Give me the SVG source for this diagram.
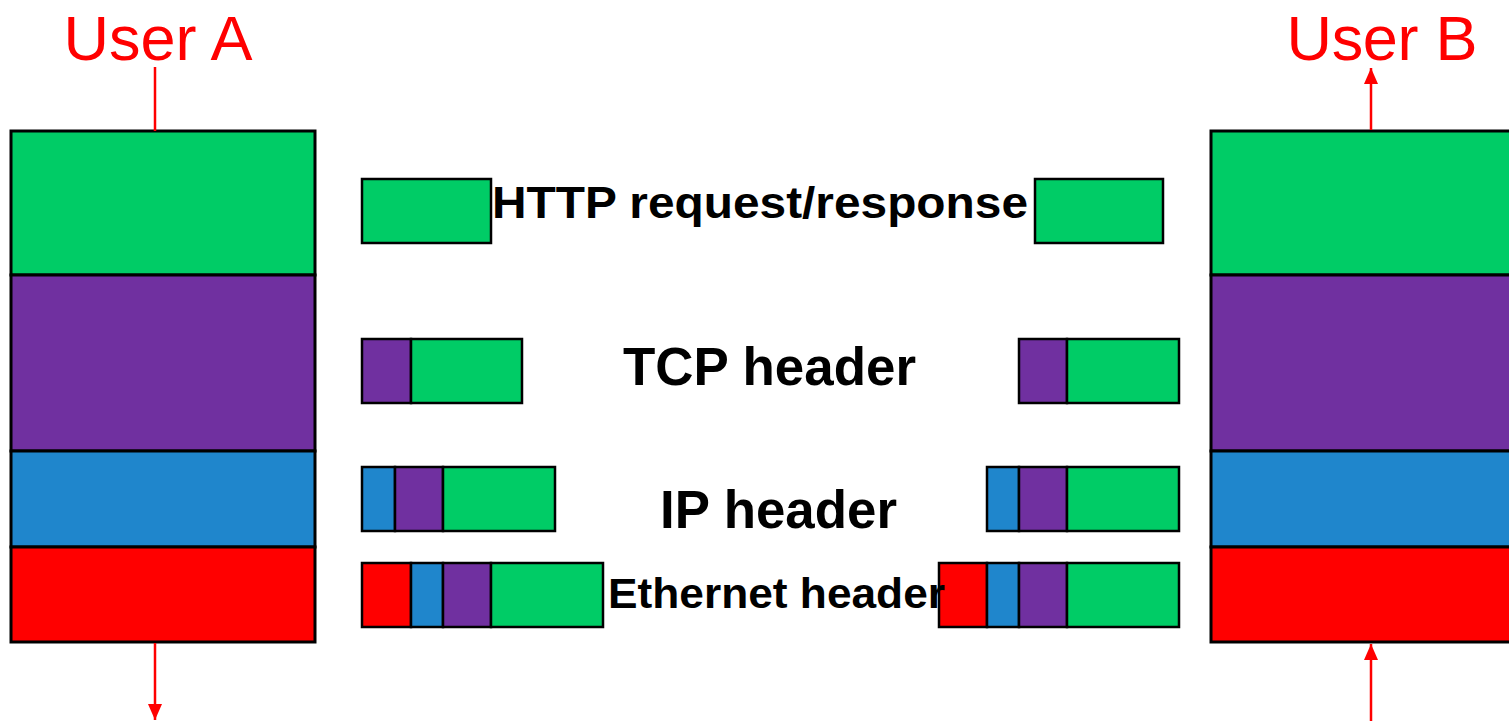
<svg xmlns="http://www.w3.org/2000/svg" width="1509" height="721" viewBox="0 0 1509 721">
<style>
.g{fill:#00CC66}.p{fill:#7030A0}.b{fill:#1F86CC}.r{fill:#FF0000}
rect{stroke:#000;stroke-width:2.5}
.big rect{stroke-width:3}
.lbl{font-family:"Liberation Sans",Arial,sans-serif;font-weight:bold;fill:#000}
.usr{font-family:"Liberation Sans",Arial,sans-serif;fill:#FF0000;font-size:63px}
.ln{stroke:#FF0000;stroke-width:2.5;fill:none}
</style>
<defs>
<marker id="ah" viewBox="0 0 16 14" refX="16" refY="7" markerWidth="16" markerHeight="14" markerUnits="userSpaceOnUse" orient="auto">
<path d="M0,0 L16,7 L0,14 Z" fill="#FF0000"/>
</marker>
</defs>
<g id="stackA" class="big">
<rect class="g" x="11" y="131" width="304" height="144"/>
<rect class="p" x="11" y="275" width="304" height="176"/>
<rect class="b" x="11" y="451" width="304" height="96"/>
<rect class="r" x="11" y="547" width="304" height="95"/>
</g>
<g id="stackB" class="big">
<rect class="g" x="1211" y="131" width="310" height="144"/>
<rect class="p" x="1211" y="275" width="310" height="176"/>
<rect class="b" x="1211" y="451" width="310" height="96"/>
<rect class="r" x="1211" y="547" width="310" height="95"/>
</g>
<g id="userA"><text class="usr" x="158" y="60" text-anchor="middle" textLength="189">User A</text></g>
<g id="userB"><text class="usr" x="1382" y="60" text-anchor="middle" textLength="191">User B</text></g>
<g id="http">
<rect class="g" x="362" y="179" width="129" height="64"/>
<rect class="g" x="1035" y="179" width="128" height="64"/>
<text class="lbl" x="492" y="218" font-size="45" textLength="536" lengthAdjust="spacingAndGlyphs">HTTP request/response</text>
</g>
<g id="tcp">
<rect class="p" x="362" y="339" width="49" height="64"/>
<rect class="g" x="411" y="339" width="111" height="64"/>
<rect class="p" x="1019" y="339" width="48" height="64"/>
<rect class="g" x="1067" y="339" width="112" height="64"/>
<text class="lbl" x="623" y="385" font-size="53" textLength="293" lengthAdjust="spacingAndGlyphs">TCP header</text>
</g>
<g id="ip">
<rect class="b" x="362" y="467" width="33" height="64"/>
<rect class="p" x="395" y="467" width="48" height="64"/>
<rect class="g" x="443" y="467" width="112" height="64"/>
<rect class="b" x="987" y="467" width="32" height="64"/>
<rect class="p" x="1019" y="467" width="48" height="64"/>
<rect class="g" x="1067" y="467" width="112" height="64"/>
<text class="lbl" x="660" y="528" font-size="54" textLength="237" lengthAdjust="spacingAndGlyphs">IP header</text>
</g>
<g id="eth">
<rect class="r" x="362" y="563" width="49" height="64"/>
<rect class="b" x="411" y="563" width="32" height="64"/>
<rect class="p" x="443" y="563" width="48" height="64"/>
<rect class="g" x="491" y="563" width="112" height="64"/>
<rect class="r" x="939" y="563" width="48" height="64"/>
<rect class="b" x="987" y="563" width="32" height="64"/>
<rect class="p" x="1019" y="563" width="48" height="64"/>
<rect class="g" x="1067" y="563" width="112" height="64"/>
<text class="lbl" x="608" y="608" font-size="43" textLength="337" lengthAdjust="spacingAndGlyphs">Ethernet header</text>
</g>
<g id="connectors">
<line class="ln" x1="155" y1="67" x2="155" y2="131"/>
<line class="ln" x1="155" y1="643" x2="155" y2="720" marker-end="url(#ah)"/>
<line class="ln" x1="1371" y1="130" x2="1371" y2="68" marker-end="url(#ah)"/>
<line class="ln" x1="1371" y1="721" x2="1371" y2="644" marker-end="url(#ah)"/>
</g>
</svg>
